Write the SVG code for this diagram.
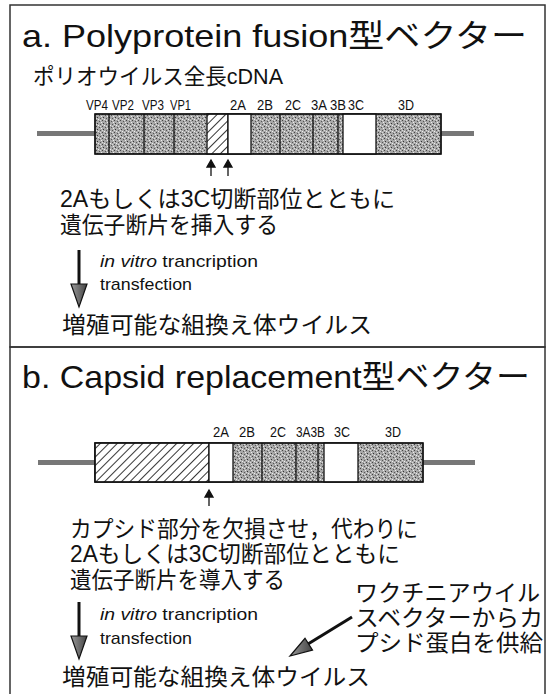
<svg xmlns="http://www.w3.org/2000/svg" width="552" height="694" viewBox="0 0 552 694">
<defs>
<style>
.t{font-family:"Liberation Sans","Noto Sans CJK JP",sans-serif;fill:#111}
.title{font-size:32px}
.jp{font-size:23px}
.lab{font-size:15px}
.en{font-size:17px}
.seg{stroke:#111;stroke-width:1.3}
.box{fill:none;stroke:#333;stroke-width:1.5}
</style>
<pattern id="stip" width="6" height="6" patternUnits="userSpaceOnUse">
<rect width="6" height="6" fill="#a8a8a8"/>
<rect x="0" y="0" width="1" height="1" fill="#444"/>
<rect x="3" y="1" width="1" height="1" fill="#555"/>
<rect x="1" y="3" width="1" height="1" fill="#333"/>
<rect x="4" y="4" width="1" height="1" fill="#555"/>
<rect x="2" y="5" width="1" height="1" fill="#eee"/>
<rect x="5" y="2" width="1" height="1" fill="#eee"/>
<rect x="4" y="0" width="1" height="1" fill="#ddd"/>
<rect x="0" y="4" width="1" height="1" fill="#ddd"/>
</pattern>
<pattern id="hatch" width="6" height="6" patternUnits="userSpaceOnUse" patternTransform="rotate(45)">
<rect width="6" height="6" fill="#fff"/>
<line x1="0" y1="0" x2="0" y2="6" stroke="#111" stroke-width="1.7"/>
</pattern>
<linearGradient id="ah" x1="0" y1="0" x2="1" y2="0">
<stop offset="0" stop-color="#999"/><stop offset="1" stop-color="#444"/>
</linearGradient>
</defs>

<g id="panel-a">
<rect class="box" x="10" y="5" width="535" height="342"/>
<text class="t title" x="22" y="47" textLength="505" lengthAdjust="spacingAndGlyphs">a.  Polyprotein fusion型ベクター</text>
<text class="t" x="33" y="84" font-size="22" textLength="250" lengthAdjust="spacingAndGlyphs">ポリオウイルス全長cDNA</text>
</g>

<g id="genome-a">
<rect x="37" y="131" width="58" height="5" fill="#777"/>
<rect x="441" y="131" width="33" height="5" fill="#777"/>
<rect class="seg" x="95" y="114" width="346" height="40" fill="url(#stip)"/>
<rect class="seg" x="207" y="114" width="21" height="40" fill="url(#hatch)"/>
<rect class="seg" x="228" y="114" width="23" height="40" fill="#fff"/>
<rect class="seg" x="343" y="114" width="33" height="40" fill="#fff"/>
<g class="seg">
<line x1="109" y1="114" x2="109" y2="154"/>
<line x1="144" y1="114" x2="144" y2="154"/>
<line x1="174" y1="114" x2="174" y2="154"/>
<line x1="280" y1="114" x2="280" y2="154"/>
<line x1="313" y1="114" x2="313" y2="154"/>
<line x1="338" y1="114" x2="338" y2="154"/>
</g>
<rect class="seg" x="95" y="114" width="346" height="40" fill="none"/>
<g class="t lab">
<text x="86" y="110" textLength="22" lengthAdjust="spacingAndGlyphs">VP4</text>
<text x="112" y="110" textLength="22" lengthAdjust="spacingAndGlyphs">VP2</text>
<text x="142" y="110" textLength="22" lengthAdjust="spacingAndGlyphs">VP3</text>
<text x="170" y="110" textLength="21" lengthAdjust="spacingAndGlyphs">VP1</text>
<text x="230" y="110" textLength="16" lengthAdjust="spacingAndGlyphs">2A</text>
<text x="257" y="110" textLength="16" lengthAdjust="spacingAndGlyphs">2B</text>
<text x="285" y="110" textLength="16" lengthAdjust="spacingAndGlyphs">2C</text>
<text x="311" y="110" textLength="16" lengthAdjust="spacingAndGlyphs">3A</text>
<text x="330" y="110" textLength="16" lengthAdjust="spacingAndGlyphs">3B</text>
<text x="348" y="110" textLength="16" lengthAdjust="spacingAndGlyphs">3C</text>
<text x="398" y="110" textLength="16" lengthAdjust="spacingAndGlyphs">3D</text>
</g>
</g>

<g id="text-a">
<text class="t jp" x="60" y="207" textLength="335" lengthAdjust="spacingAndGlyphs">2Aもしくは3C切断部位とともに</text>
<text class="t jp" x="60" y="233" textLength="218" lengthAdjust="spacingAndGlyphs">遺伝子断片を挿入する</text>
<text class="t en" x="100" y="267" textLength="158" lengthAdjust="spacingAndGlyphs"><tspan font-style="italic">in vitro</tspan> trancription</text>
<text class="t en" x="100" y="290" textLength="92" lengthAdjust="spacingAndGlyphs">transfection</text>
<text class="t jp" x="62" y="333" textLength="310" lengthAdjust="spacingAndGlyphs">増殖可能な組換え体ウイルス</text>
</g>

<g id="panel-b">
<rect class="box" x="10" y="347" width="535" height="360"/>
<text class="t title" x="22" y="388" textLength="508" lengthAdjust="spacingAndGlyphs">b.  Capsid replacement型ベクター</text>
</g>

<g id="genome-b">
<rect x="38" y="460" width="57" height="5" fill="#777"/>
<rect x="423" y="460" width="52" height="5" fill="#777"/>
<rect class="seg" x="95" y="443" width="328" height="39" fill="url(#stip)"/>
<rect class="seg" x="95" y="443" width="114" height="39" fill="url(#hatch)"/>
<rect class="seg" x="209" y="443" width="24" height="39" fill="#fff"/>
<rect class="seg" x="324" y="443" width="34" height="39" fill="#fff"/>
<g class="seg">
<line x1="262" y1="443" x2="262" y2="482"/>
<line x1="296" y1="443" x2="296" y2="482"/>
<line x1="318" y1="443" x2="318" y2="482"/>
</g>
<rect class="seg" x="95" y="443" width="328" height="39" fill="none"/>
<g class="t lab">
<text x="213" y="437" textLength="16" lengthAdjust="spacingAndGlyphs">2A</text>
<text x="239" y="437" textLength="16" lengthAdjust="spacingAndGlyphs">2B</text>
<text x="270" y="437" textLength="16" lengthAdjust="spacingAndGlyphs">2C</text>
<text x="296" y="437" textLength="29" lengthAdjust="spacingAndGlyphs">3A3B</text>
<text x="334" y="437" textLength="16" lengthAdjust="spacingAndGlyphs">3C</text>
<text x="385" y="437" textLength="16" lengthAdjust="spacingAndGlyphs">3D</text>
</g>
</g>

<g id="text-b">
<text class="t jp" x="70" y="537" textLength="348" lengthAdjust="spacingAndGlyphs">カプシド部分を欠損させ，代わりに</text>
<text class="t jp" x="70" y="562" textLength="330" lengthAdjust="spacingAndGlyphs">2Aもしくは3C切断部位とともに</text>
<text class="t jp" x="70" y="588" textLength="215" lengthAdjust="spacingAndGlyphs">遺伝子断片を導入する</text>
<text class="t en" x="100" y="620" textLength="158" lengthAdjust="spacingAndGlyphs"><tspan font-style="italic">in vitro</tspan> trancription</text>
<text class="t en" x="100" y="644" textLength="92" lengthAdjust="spacingAndGlyphs">transfection</text>
<text class="t jp" x="355" y="601" textLength="185" lengthAdjust="spacingAndGlyphs">ワクチニアウイル</text>
<text class="t jp" x="355" y="626" textLength="188" lengthAdjust="spacingAndGlyphs">スベクターからカ</text>
<text class="t jp" x="355" y="651" textLength="188" lengthAdjust="spacingAndGlyphs">プシド蛋白を供給</text>
<text class="t jp" x="62" y="685" textLength="308" lengthAdjust="spacingAndGlyphs">増殖可能な組換え体ウイルス</text>
</g>

<g id="connectors">
<g stroke="#111" stroke-width="1.3" fill="#111">
<line x1="211" y1="176" x2="211" y2="164"/><path d="M207,167 L211,160 L215,167 Z"/>
<line x1="228" y1="176" x2="228" y2="164"/><path d="M224,167 L228,160 L232,167 Z"/>
<line x1="209" y1="506" x2="209" y2="494"/><path d="M205,497 L209,490 L213,497 Z"/>
</g>
<line x1="79" y1="250" x2="79" y2="290" stroke="#111" stroke-width="3"/>
<path d="M71,284 L87,284 L79,307 Z" fill="url(#ah)" stroke="#111" stroke-width="1.2"/>
<line x1="79" y1="602" x2="79" y2="642" stroke="#111" stroke-width="3"/>
<path d="M71,636 L87,636 L79,659 Z" fill="url(#ah)" stroke="#111" stroke-width="1.2"/>
<line x1="352" y1="617" x2="308" y2="644" stroke="#111" stroke-width="3"/>
<path d="M312.5,650.1 L305,638.3 L290,656 Z" fill="url(#ah)" stroke="#111" stroke-width="1.2"/>
</g>
</svg>
